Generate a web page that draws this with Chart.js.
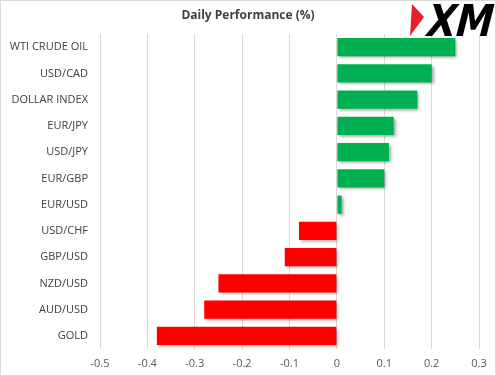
<!DOCTYPE html>
<html>
<head>
<meta charset="utf-8">
<style>
  html, body { margin: 0; padding: 0; background: #fff; }
  canvas { display: block; }
</style>
<script src="https://cdn.jsdelivr.net/npm/chart.js@4/dist/chart.umd.min.js"></script>
</head>
<body>
<canvas id="perfChart" width="496" height="376"></canvas>
<script>
const categories = ["WTI CRUDE OIL", "USD/CAD", "DOLLAR INDEX", "EUR/JPY", "USD/JPY", "EUR/GBP",
  "EUR/USD", "USD/CHF", "GBP/USD", "NZD/USD", "AUD/USD", "GOLD"];
const performance = [0.25, 0.20, 0.17, 0.12, 0.11, 0.10, 0.01, -0.08, -0.11, -0.25, -0.28, -0.38];
const axisMin = -0.5;
const axisMax = 0.3;
const axisStep = 0.1;

const FONT = "'Open Sans', 'Noto Sans', sans-serif";

// title, logo, frame and bar shadow
const decor = {
  id: "decor",
  beforeDatasetsDraw(chart) {
    const c = chart.ctx;
    c.save();
    c.shadowColor = "rgba(0,0,0,0.35)";
    c.shadowOffsetX = 2;
    c.shadowOffsetY = 2;
    c.shadowBlur = 3;
  },
  afterDatasetsDraw(chart) {
    chart.ctx.restore();
  },
  afterDraw(chart) {
    const c = chart.ctx;
    c.save();
    c.fillStyle = "#404040";
    c.font = "bold 12px " + FONT;
    c.textAlign = "center";
    c.textBaseline = "middle";
    c.fillText("Daily Performance (%)", 248, 16);

    // XM logo
    c.fillStyle = "#e8202a";
    c.beginPath();
    c.moveTo(412, 4);
    c.lineTo(424, 17);
    c.lineTo(410, 36);
    c.closePath();
    c.fill();
    c.fillStyle = "#000";
    c.font = "900 44px 'DejaVu Sans', sans-serif";
    const w = c.measureText("XM").width;
    c.translate(424, 36);
    c.transform(1, 0, -0.25, 1, 0, 0);
    c.scale(66 / w, 1);
    c.textAlign = "left";
    c.textBaseline = "alphabetic";
    c.fillText("XM", 0, 0);
    c.restore();

    c.save();
    c.strokeStyle = "#d9d9d9";
    c.lineWidth = 1;
    c.strokeRect(0.5, 0.5, 495, 375);
    c.restore();
  }
};

new Chart(document.getElementById("perfChart").getContext("2d"), {
  type: "bar",
  data: {
    labels: categories,
    datasets: [{
      data: performance,
      backgroundColor: performance.map(v => v >= 0 ? "#00b050" : "#ff0000"),
      categoryPercentage: 0.69,
      barPercentage: 1
    }]
  },
  options: {
    indexAxis: "y",
    responsive: false,
    animation: false,
    layout: { padding: { top: 34, right: 17, bottom: 0, left: 0 } },
    plugins: {
      legend: { display: false },
      tooltip: { enabled: false }
    },
    scales: {
      x: {
        min: axisMin,
        max: axisMax,
        afterFit: s => { s.height = 27; },
        grid: { color: "#d9d9d9", drawTicks: false },
        border: { display: false },
        ticks: {
          stepSize: axisStep,
          padding: 8,
          color: "#595959",
          font: { family: FONT, size: 11 },
          callback: v => Math.round(v * 10) / 10
        }
      },
      y: {
        afterFit: s => { s.width = 100; },
        grid: { display: false, drawTicks: false },
        border: { display: false },
        ticks: {
          padding: 12,
          color: "#404040",
          font: { family: FONT, size: 11 }
        }
      }
    }
  },
  plugins: [decor]
});
</script>
</body>
</html>
